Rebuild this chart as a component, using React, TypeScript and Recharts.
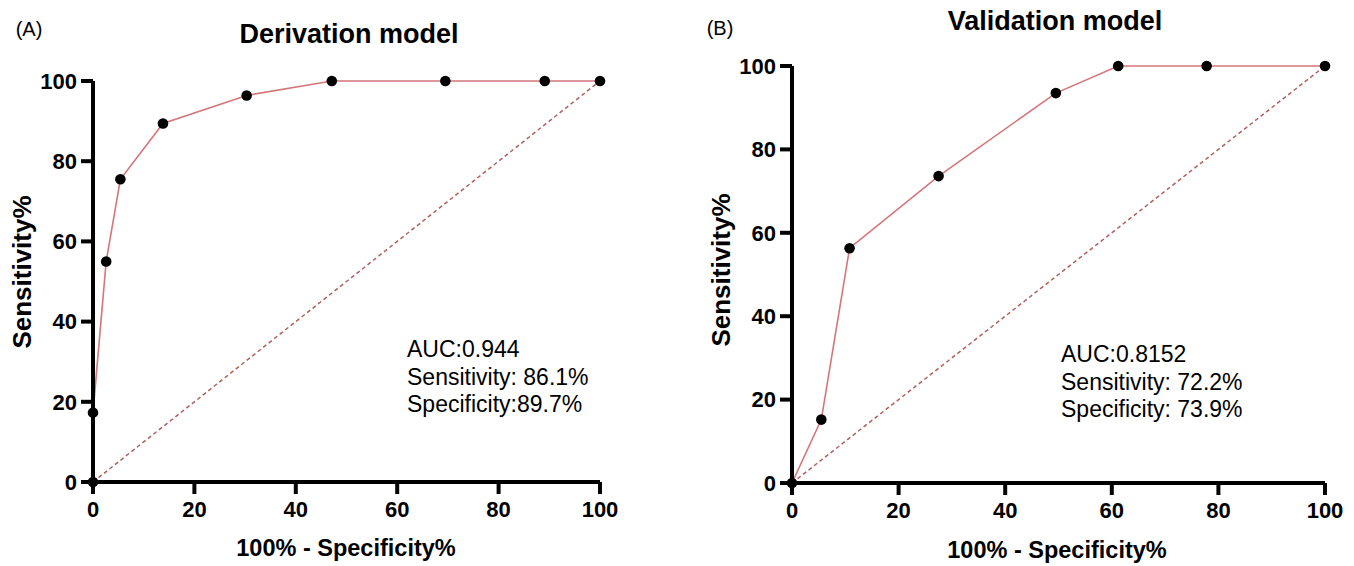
import React from "react";
import { Line, LineChart, XAxis, YAxis } from "recharts";

// ROC points (x = 100% - specificity, y = sensitivity)
const derivX = [0, 0, 2.6, 5.4, 13.8, 30.3, 47.1, 69.5, 89.1, 100];
const derivY = [0, 17.3, 55, 75.5, 89.4, 96.4, 100, 100, 100, 100];
const validX = [0, 5.5, 10.8, 27.5, 49.5, 61.2, 77.8, 100];
const validY = [0, 15.2, 56.3, 73.6, 93.5, 100, 100, 100];
const chanceX = [0, 100];
const chanceY = [0, 100];
const ticks = [0, 20, 40, 60, 80, 100];

const derivStats = ["AUC:0.944", "Sensitivity: 86.1%", "Specificity:89.7%"];
const validStats = ["AUC:0.8152", "Sensitivity: 72.2%", "Specificity: 73.9%"];

const zip = (xs: number[], ys: number[]) => xs.map((x, i) => ({ x, y: ys[i] }));

const FONT = '"Liberation Sans", Arial, sans-serif';
const tickStyle = { fontSize: 22, fontWeight: 700, fill: "#000" };

function Roc({ data, width, top, right, yAxisW, xAxisH }: any) {
  return (
    <LineChart width={width} height={566} margin={{ top, right, bottom: 0, left: 0 }}>
      <XAxis
        type="number"
        dataKey="x"
        domain={[0, 100]}
        ticks={ticks}
        height={xAxisH}
        axisLine={{ stroke: "#000", strokeWidth: 4 }}
        tickLine={{ stroke: "#000", strokeWidth: 4 }}
        tickSize={12}
        tickMargin={7}
        tick={tickStyle}
        interval={0}
      />
      <YAxis
        type="number"
        domain={[0, 100]}
        ticks={ticks}
        width={yAxisW}
        axisLine={{ stroke: "#000", strokeWidth: 4 }}
        tickLine={{ stroke: "#000", strokeWidth: 4 }}
        tickSize={12}
        tickMargin={4}
        tick={tickStyle}
        interval={0}
      />
      <Line
        data={zip(chanceX, chanceY)}
        dataKey="y"
        type="linear"
        stroke="#b0605e"
        strokeWidth={1.5}
        strokeDasharray="4 3"
        dot={false}
        isAnimationActive={false}
      />
      <Line
        data={data}
        dataKey="y"
        type="linear"
        stroke="#d4767a"
        strokeWidth={1.6}
        dot={{ r: 5.3, fill: "#000", stroke: "#000", strokeWidth: 0 }}
        isAnimationActive={false}
      />
    </LineChart>
  );
}

const at = (x: number, y: number, extra: React.CSSProperties = {}): React.CSSProperties => ({
  position: "absolute",
  left: x,
  top: y,
  transform: "translate(-50%, -50%)",
  whiteSpace: "nowrap",
  color: "#000",
  ...extra,
});

export default function App() {
  return (
    <div
      style={{
        position: "absolute",
        left: 0,
        top: 0,
        width: 1354,
        height: 566,
        background: "#fff",
        fontFamily: FONT,
        overflow: "hidden",
      }}
    >
      <div style={{ position: "absolute", left: 0, top: 0 }}>
        <Roc data={zip(derivX, derivY)} width={680} top={81} right={80} yAxisW={93} xAxisH={84} />
      </div>
      <div style={{ position: "absolute", left: 700, top: 0 }}>
        <Roc data={zip(validX, validY)} width={654} top={66} right={29} yAxisW={92} xAxisH={83} />
      </div>

      <div style={at(29, 29, { fontSize: 20 })}>(A)</div>
      <div style={at(349, 34, { fontSize: 27, fontWeight: 700 })}>Derivation model</div>
      <div style={at(22, 272, { fontSize: 26, fontWeight: 700, transform: "translate(-50%, -50%) rotate(-90deg)" })}>
        Sensitivity%
      </div>
      <div style={at(346, 548, { fontSize: 23.5, fontWeight: 700 })}>100% - Specificity%</div>
      <div style={{ position: "absolute", left: 407, top: 336, fontSize: 23, lineHeight: "27.5px", whiteSpace: "nowrap" }}>
        {derivStats.map((s) => (
          <div key={s}>{s}</div>
        ))}
      </div>

      <div style={at(720, 28, { fontSize: 20 })}>(B)</div>
      <div style={at(1055, 21, { fontSize: 27, fontWeight: 700 })}>Validation model</div>
      <div style={at(721, 270, { fontSize: 26, fontWeight: 700, transform: "translate(-50%, -50%) rotate(-90deg)" })}>
        Sensitivity%
      </div>
      <div style={at(1057, 550, { fontSize: 23.5, fontWeight: 700 })}>100% - Specificity%</div>
      <div style={{ position: "absolute", left: 1061, top: 341, fontSize: 23, lineHeight: "27.5px", whiteSpace: "nowrap" }}>
        {validStats.map((s) => (
          <div key={s}>{s}</div>
        ))}
      </div>
    </div>
  );
}
